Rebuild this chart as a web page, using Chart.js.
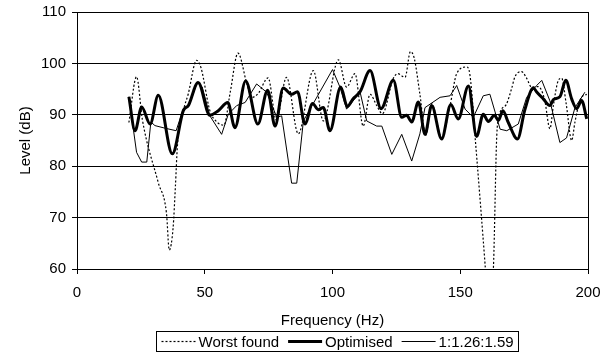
<!DOCTYPE html>
<html>
<head>
<meta charset="utf-8">
<script src="https://cdn.jsdelivr.net/npm/chart.js@4.4.1/dist/chart.umd.min.js"></script>
<style>
  html, body { margin: 0; padding: 0; background: #fff; }
  #wrap { width: 611px; height: 364px; }
</style>
</head>
<body>
<div id="wrap"><canvas id="graphique" width="611" height="364"></canvas></div>
<script>
// valeurs (Hz / dB)
const worstHz = [20.3, 23.3, 25.6, 31.8, 35, 36.1, 37.6, 38.5, 39.3, 41.6, 43.5, 46.8, 48.5, 52, 55, 57.5, 60, 63, 66.5, 68.5, 71, 74.8, 78, 82, 86.6, 92.5, 96.4, 102.3, 105.5, 108.8, 112, 114.7, 117.3, 119.5, 123.8, 125.5, 128.4, 130.5, 132, 134.2, 136.5, 138.8, 142.7, 146, 148.6, 152.5, 153.8, 156, 158, 159.7, 161.3, 163, 164.3, 165.6, 168, 170.1, 171.4, 174, 176, 177.9, 180.5, 183, 185.1, 186.5, 188.4, 189.7, 191.5, 193.6, 194.9, 197, 199.5];
const worstDb = [88.5, 97.4, 89, 76.8, 70.9, 63.7, 68, 76, 84, 90.8, 94, 100.6, 99.2, 90.8, 88.5, 88, 94.5, 102, 96, 93.4, 94.2, 97.2, 89, 97.3, 86.3, 98.6, 88.8, 100.7, 95.4, 98, 87.8, 94, 91.8, 90.2, 97.1, 98, 97.3, 102.3, 101, 94, 86, 92.2, 85.6, 91.8, 98, 99.3, 97.7, 84.5, 72, 61, 50, 60.5, 86, 90.5, 92, 95.1, 97.4, 98.4, 97.1, 95.4, 95.5, 93, 87.3, 92, 96.7, 97.1, 92, 85, 88.6, 93, 94];

const optHz = [20.3, 22.7, 25.3, 28.6, 31.8, 37.3, 41.6, 43.6, 47.4, 52, 55.3, 59, 61.8, 66, 70.8, 74.6, 77.5, 80.7, 84, 86.3, 89.2, 92.2, 94.4, 96.4, 99, 103.2, 105.8, 108, 110.8, 114.7, 119, 123.8, 127.1, 129, 131, 133.6, 136.2, 138.8, 142.7, 146.3, 149.2, 153.2, 156.4, 159, 161, 163.4, 164.9, 166.7, 168.8, 172.4, 175.3, 178.6, 180, 182.5, 185.1, 186.5, 189, 191.3, 193.6, 195.6, 197.5, 199.5];
const optDb = [93.5, 86.9, 91.5, 88.2, 93.8, 82.4, 90.8, 91.8, 96.3, 89.9, 90.8, 92.4, 87.5, 96.6, 88.2, 94.8, 87.8, 95.2, 94, 94.5, 88.2, 92.2, 91, 91.4, 86.9, 95.4, 91.6, 93.1, 94.5, 98.6, 91.2, 96.7, 89.5, 89.9, 88.6, 92.5, 86.2, 91.8, 85.3, 92, 89.2, 95.6, 85.8, 90.1, 88.7, 89.9, 88.9, 90.8, 88.5, 85.3, 91, 95.2, 94.4, 93.1, 91.8, 93, 93.5, 96.7, 93.1, 91.2, 92.8, 89.2];

const ratioHz = [20.3, 23.3, 25.3, 27.3, 28.9, 30.5, 34.4, 38.8, 41.6, 44, 47, 49, 52, 56.6, 59.2, 62.5, 65.8, 70.3, 74.2, 78.2, 80.1, 84, 86, 88.6, 100, 102.9, 105.5, 110.8, 113.4, 117.3, 119.3, 123.2, 127.1, 131, 134.2, 136.2, 142.1, 146, 148.6, 151.9, 155.1, 159, 161.6, 165.6, 168.2, 172.7, 176, 179.9, 181.9, 185.1, 189, 191.6, 194.9, 198.8];
const ratioDb = [93.5, 82.7, 80.8, 80.8, 88.6, 87.9, 87.4, 86.9, 91.2, 92, 96.3, 95.4, 89.8, 86.2, 90.1, 91.8, 92.4, 96, 94.4, 89.5, 89.8, 76.7, 76.7, 88.8, 98.8, 95.4, 91.1, 94.4, 88.8, 87.8, 87.8, 82.3, 86.2, 81, 86.3, 91.4, 93.4, 93.7, 95.7, 91.1, 89.5, 93.7, 94, 87.2, 86.9, 88.2, 93.4, 95.7, 96.7, 92.7, 84.6, 85.5, 91.4, 94.4];

const POLICE = '"Liberation Sans", Arial, sans-serif';
const TAILLE = 15;

function points(xs, ys) {
  return xs.map((x, i) => ({ x: x, y: ys[i] }));
}

// bordure droite + légende encadrée
const cadre = {
  id: 'cadre',
  afterDraw(chart) {
    const ctx = chart.ctx;
    const a = chart.chartArea;
    ctx.save();
    ctx.strokeStyle = '#000';
    ctx.lineWidth = 1;
    ctx.beginPath();
    ctx.moveTo(Math.round(a.right) + 0.5, a.top);
    ctx.lineTo(Math.round(a.right) + 0.5, a.bottom);
    ctx.stroke();

    ctx.font = TAILLE + 'px ' + POLICE;
    ctx.textBaseline = 'middle';
    const echantillon = 34, ecart = 3, entre = 9, marge = 5;
    const ds = chart.data.datasets;
    let total = marge * 2;
    ds.forEach((d, i) => {
      total += echantillon + ecart + ctx.measureText(d.label).width;
      if (i < ds.length - 1) total += entre;
    });
    const cx = (a.left + a.right) / 2 + 5;
    const hauteur = 20;
    const haut = chart.height - 33;
    let x = Math.round(cx - total / 2) + 0.5;
    ctx.strokeRect(x, haut + 0.5, Math.round(total), hauteur);
    const ym = haut + hauteur / 2 + 0.5;
    x += marge;
    ds.forEach((d) => {
      ctx.save();
      ctx.lineWidth = d.borderWidth;
      ctx.setLineDash(d.borderDash || []);
      ctx.beginPath();
      ctx.moveTo(x, ym);
      ctx.lineTo(x + echantillon, ym);
      ctx.stroke();
      ctx.restore();
      x += echantillon + ecart;
      ctx.fillStyle = '#000';
      ctx.fillText(d.label, x, ym + 1);
      x += ctx.measureText(d.label).width + entre;
    });
    ctx.restore();
  }
};

const ctx = document.getElementById('graphique').getContext('2d');
new Chart(ctx, {
  type: 'scatter',
  data: {
    datasets: [
      {
        label: 'Worst found',
        data: points(worstHz, worstDb),
        showLine: true,
        borderColor: '#000',
        borderWidth: 1.2,
        borderDash: [2, 2],
        cubicInterpolationMode: 'monotone',
        pointRadius: 0
      },
      {
        label: 'Optimised',
        data: points(optHz, optDb),
        showLine: true,
        borderColor: '#000',
        borderWidth: 3,
        cubicInterpolationMode: 'monotone',
        pointRadius: 0
      },
      {
        label: '1:1.26:1.59',
        data: points(ratioHz, ratioDb),
        showLine: true,
        borderColor: '#000',
        borderWidth: 1,
        tension: 0,
        pointRadius: 0
      }
    ]
  },
  options: {
    responsive: false,
    animation: false,
    events: [],
    layout: { padding: { left: 17, right: 23, top: 0, bottom: 34 } },
    plugins: {
      legend: { display: false },
      tooltip: { enabled: false }
    },
    scales: {
      x: {
        type: 'linear',
        min: 0,
        max: 200,
        ticks: { stepSize: 50, color: '#000', padding: 10, maxRotation: 0, font: { family: POLICE, size: TAILLE } },
        grid: { drawOnChartArea: false, drawTicks: true, tickLength: 5, color: '#000' },
        border: { color: '#000', width: 1 },
        title: { display: true, text: 'Frequency (Hz)', color: '#000', padding: { top: 0, bottom: 0 }, font: { family: POLICE, size: TAILLE } }
      },
      y: {
        min: 60,
        max: 110,
        ticks: { stepSize: 10, color: '#000', padding: 6, font: { family: POLICE, size: TAILLE, lineHeight: 0.8 } },
        grid: { color: '#000', lineWidth: 1, tickLength: 5 },
        border: { color: '#000', width: 1 },
        title: { display: true, text: 'Level (dB)', color: '#000', padding: { top: 0, bottom: 0 }, font: { family: POLICE, size: TAILLE } }
      }
    }
  },
  plugins: [cadre]
});
</script>
</body>
</html>
